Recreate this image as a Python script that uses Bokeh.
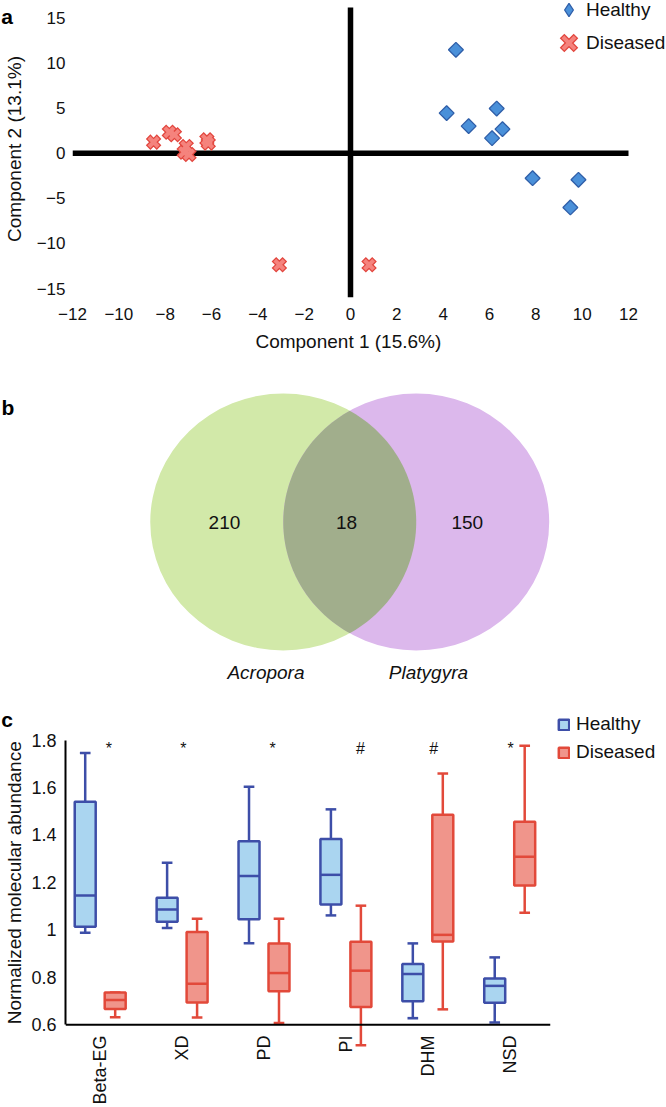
import numpy as np
from math import pi
from bokeh.plotting import figure
from bokeh.layouts import column
from bokeh.models import (ColumnDataSource, FixedTicker, Span, Legend, LegendItem,
                          LinearAxis)
from bokeh.core.properties import value
from bokeh.embed import file_html
from bokeh.resources import INLINE

FONT = "Liberation Sans"
NB = "\u00a0"

# ---------------- data: panel a (PCA) ----------------
healthy_pc1 = [4.55, 4.15, 5.10, 6.31, 6.56, 6.11, 7.86, 9.84, 9.49]
healthy_pc2 = [11.44, 4.43, 2.99, 4.94, 2.66, 1.66, -2.77, -2.95, -6.01]
diseased_pc1 = [-8.50, -7.82, -7.60, -7.09, -7.18, -6.97, -6.20, -6.14, -3.07, 0.80]
diseased_pc2 = [1.22, 2.32, 2.03, 0.74, 0.11, -0.15, 1.48, 1.11, -12.36, -12.36]
pc_xticks = list(range(-12, 13, 2))
pc_yticks = list(range(-15, 16, 5))
pc_ylim = (-15.98, 16.13)   # extent of the vertical zero line

# ---------------- data: panel b (Venn) ----------------
venn_counts = [210, 18, 150]
venn_sets = ["Acropora", "Platygyra"]

# ---------------- data: panel c (box plots) ----------------
categories = ["Beta-EG", "XD", "PD", "PI", "DHM", "NSD"]
healthy_wlo = [0.988, 1.008, 0.944, 1.061, 0.628, 0.610]
healthy_q1 = [1.013, 1.034, 1.045, 1.107, 0.699, 0.693]
healthy_med = [1.145, 1.086, 1.227, 1.232, 0.814, 0.764]
healthy_q3 = [1.540, 1.135, 1.374, 1.383, 0.856, 0.795]
healthy_whi = [1.745, 1.283, 1.603, 1.508, 0.943, 0.884]
diseased_wlo = [0.632, 0.631, 0.607, 0.514, 0.665, 1.072]
diseased_q1 = [0.667, 0.694, 0.741, 0.675, 0.951, 1.187]
diseased_med = [0.704, 0.773, 0.818, 0.828, 0.979, 1.308]
diseased_q3 = [0.736, 0.991, 0.943, 0.950, 1.485, 1.456]
diseased_whi = [0.736, 1.047, 1.047, 1.102, 1.659, 1.776]
significance = ["*", "*", "*", "#", "#", "*"]
abund_ticks = [0.6, 0.8, 1.0, 1.2, 1.4, 1.6, 1.8]


def minus(v):
    return ("\u2212%d" % -v) if v < 0 else "%d" % v


def plain(p):
    p.grid.visible = False
    p.outline_line_color = None
    p.background_fill_color = "white"
    p.border_fill_color = "white"


def style_axis(ax, tick_size, title_size=19):
    ax.axis_line_color = None
    ax.major_tick_line_color = None
    ax.minor_tick_line_color = None
    ax.major_tick_out = 0
    ax.major_tick_in = 0
    ax.minor_tick_out = 0
    ax.minor_tick_in = 0
    ax.major_label_text_font = FONT
    ax.major_label_text_font_size = tick_size
    ax.major_label_text_color = "#111111"
    ax.axis_label_text_font = FONT
    ax.axis_label_text_font_size = "%dpx" % title_size
    ax.axis_label_text_font_style = "normal"
    ax.axis_label_text_color = "#111111"


H_FILL, H_LINE = "#4a90d9", "#2f5ea8"
D_FILL, D_LINE = "#f5837d", "#e2463e"

# ====================== panel a ======================
pa = figure(width=666, height=370, x_range=(-12, 13.64), y_range=(-15.98, 16.9),
            output_backend="svg", toolbar_location=None, frame_align=False,
            min_border_left=72, min_border_right=0, min_border_top=0, min_border_bottom=73)
plain(pa)
pa.xaxis.ticker = FixedTicker(ticks=pc_xticks)
pa.yaxis.ticker = FixedTicker(ticks=pc_yticks)
pa.xaxis.major_label_overrides = {t: minus(t) for t in pc_xticks}
pa.yaxis.major_label_overrides = {t: minus(t) for t in pc_yticks}
pa.xaxis.axis_label = "Component 1 (15.6%)" + NB * 8
style_axis(pa.xaxis[0], "17px")
style_axis(pa.yaxis[0], "17px")
pa.xaxis.major_label_standoff = 10
pa.xaxis.axis_label_standoff = 8
pa.yaxis.major_label_standoff = 7

# outer left axis: panel letter + axis title
ya2 = LinearAxis(ticker=FixedTicker(ticks=[16.12]),
                 major_label_overrides={16.12: "a" + NB * 3},
                 axis_label="Component 2 (13.1%)")
style_axis(ya2, "21px")
ya2.major_label_text_font_style = "bold"
ya2.major_label_text_color = "black"
ya2.major_label_standoff = 3
ya2.axis_label_standoff = -27
pa.add_layout(ya2, "left")

pa.segment(x0=[0], y0=[pc_ylim[0]], x1=[0], y1=[pc_ylim[1]],
           line_color="black", line_width=5.5)
pa.segment(x0=[pc_xticks[0]], y0=[0], x1=[pc_xticks[-1]], y1=[0],
           line_color="black", line_width=5.5)

# diamond-shaped key for the legend (drawn beneath the rotated squares)
r_hkey = pa.scatter(healthy_pc1, healthy_pc2, marker="diamond", size=12,
                    fill_color=H_FILL, line_color=H_LINE, line_width=1.3)
pa.scatter(healthy_pc1, healthy_pc2, marker="square", angle=pi / 4, size=10.5,
           fill_color=H_FILL, line_color=H_LINE, line_width=1.3)
r_d1 = pa.scatter(diseased_pc1, diseased_pc2, marker="x", size=9, line_width=6.5,
                  line_color=D_LINE, line_cap="square")
r_d2 = pa.scatter(diseased_pc1, diseased_pc2, marker="x", size=9, line_width=4.0,
                  line_color=D_FILL, line_cap="square")

leg_a = Legend(items=[LegendItem(label="Healthy", renderers=[r_hkey]),
                      LegendItem(label="Diseased", renderers=[r_d1, r_d2])],
               location=(480, 238), orientation="vertical", padding=0, margin=0,
               glyph_width=33, glyph_height=33, label_height=33, spacing=-7,
               label_standoff=1, border_line_color=None, background_fill_alpha=0,
               label_text_font=FONT, label_text_font_size="19px",
               label_text_color="#111111")
pa.add_layout(leg_a, "center")

# ====================== panel b ======================
pb = figure(width=666, height=330, x_range=(-2.626, 2.382), y_range=(-1.389, 1.179),
            x_axis_type=None, y_axis_type=None, output_backend="svg",
            toolbar_location=None, frame_align=False,
            min_border_left=0, min_border_right=0, min_border_top=0, min_border_bottom=0)
plain(pb)
pb.ellipse(x=[-0.5], y=[0], width=2, height=2, fill_color="#d2e9a9", line_color=None)
pb.ellipse(x=[0.5], y=[0], width=2, height=2, fill_color="#dcb8ec", line_color=None)
ta = np.linspace(-pi / 3, pi / 3, 80)
tb = np.linspace(2 * pi / 3, 4 * pi / 3, 80)
lens_x = np.concatenate([-0.5 + np.cos(ta), 0.5 + np.cos(tb)])
lens_y = np.concatenate([np.sin(ta), np.sin(tb)])
pb.patch(lens_x, lens_y, fill_color="#a1ae8c", line_color=None)
pb.text(x=[-0.942, -0.024, 0.884], y=[0, 0, 0], text=[str(c) for c in venn_counts],
        text_font=value(FONT), text_font_size="19px", text_align="center",
        text_baseline="middle", text_color="#111111")
pb.text(x=[-0.63, 0.592], y=[-1.171, -1.171], text=venn_sets, text_font=value(FONT),
        text_font_size="19px", text_font_style="italic", text_align="center",
        text_baseline="middle", text_color="#111111")
pb.text(x=[-2.618], y=[0.891], text=["b"], text_font=value(FONT), text_font_size="21px",
        text_font_style="bold", text_align="left", text_baseline="alphabetic")

# ====================== panel c ======================
pc = figure(frame_width=485, frame_height=342, x_range=(-0.4237, 5.498),
            y_range=(0.5, 1.9415), output_backend="svg", toolbar_location=None,
            frame_align=False,
            min_border_left=65, min_border_right=0, min_border_top=6, min_border_bottom=57)
plain(pc)
idx = np.arange(len(categories))
off, bw, cw = 0.183, 0.256, 0.13
xh = idx - off
xd = idx + off
src_h = ColumnDataSource(dict(x=xh, lo=healthy_wlo, q1=healthy_q1, med=healthy_med,
                              q3=healthy_q3, hi=healthy_whi,
                              xl=xh - cw / 2, xr=xh + cw / 2, ml=xh - bw / 2, mr=xh + bw / 2))
src_d = ColumnDataSource(dict(x=xd, lo=diseased_wlo, q1=diseased_q1, med=diseased_med,
                              q3=diseased_q3, hi=diseased_whi,
                              xl=xd - cw / 2, xr=xd + cw / 2, ml=xd - bw / 2, mr=xd + bw / 2))
box_r = {}
for name, src, fc, lc in (("Healthy", src_h, "#aad5f0", "#3d4ea8"),
                          ("Diseased", src_d, "#f0958b", "#e2493a")):
    kw = dict(source=src, line_color=lc, line_width=2.5)
    pc.segment(x0="x", y0="lo", x1="x", y1="q1", **kw)
    pc.segment(x0="x", y0="q3", x1="x", y1="hi", **kw)
    pc.segment(x0="xl", y0="lo", x1="xr", y1="lo", **kw)
    pc.segment(x0="xl", y0="hi", x1="xr", y1="hi", **kw)
    box_r[name] = pc.vbar(x="x", width=bw, bottom="q1", top="q3", fill_color=fc, **kw)
    pc.segment(x0="ml", y0="med", x1="mr", y1="med", **kw)

sig_off = [0.105, 0.015, 0.104, 0.177, 0.073, 0.01]
pc.text(x=idx + np.array(sig_off), y=[1.763] * len(categories), text=significance,
        text_font=value(FONT), text_font_size="16px", text_align="center",
        text_baseline="alphabetic", text_color="#111111")

pc.add_layout(Span(location=abund_ticks[0], dimension="width", line_color="black",
                   line_width=2))
pc.xaxis.ticker = FixedTicker(ticks=[int(i) for i in idx])
pc.xaxis.major_label_overrides = {int(i): c for i, c in zip(idx, categories)}
pc.xaxis.major_label_orientation = pi / 2
style_axis(pc.xaxis[0], "18px")
pc.xaxis.major_label_standoff = -13
pc.yaxis.ticker = FixedTicker(ticks=abund_ticks)
pc.yaxis.major_label_overrides = {t: "%g" % t for t in abund_ticks}
style_axis(pc.yaxis[0], "18px")
pc.yaxis.axis_line_color = "black"
pc.yaxis.axis_line_width = 2
pc.yaxis.bounds = (abund_ticks[0], abund_ticks[-1])
pc.yaxis.major_label_standoff = 9

yc2 = LinearAxis(ticker=FixedTicker(ticks=[1.8856]),
                 major_label_overrides={1.8856: "c" + NB * 2},
                 axis_label="Normalized molecular abundance" + NB * 2)
style_axis(yc2, "21px")
yc2.major_label_text_font_style = "bold"
yc2.major_label_text_color = "black"
yc2.major_label_standoff = 4
yc2.axis_label_standoff = -27
pc.add_layout(yc2, "left")

leg_c = Legend(items=[LegendItem(label="Healthy", renderers=[box_r["Healthy"]]),
                      LegendItem(label="Diseased", renderers=[box_r["Diseased"]])],
               location="top_left", orientation="vertical", padding=0, margin=7,
               glyph_width=13, glyph_height=13, label_height=20, spacing=6,
               label_standoff=6, border_line_color=None, background_fill_alpha=0,
               label_text_font=FONT, label_text_font_size="19px",
               label_text_color="#111111")
pc.add_layout(leg_c, "right")

layout = column(pa, pb, pc)
open("out.html", "w").write(file_html(layout, INLINE))
